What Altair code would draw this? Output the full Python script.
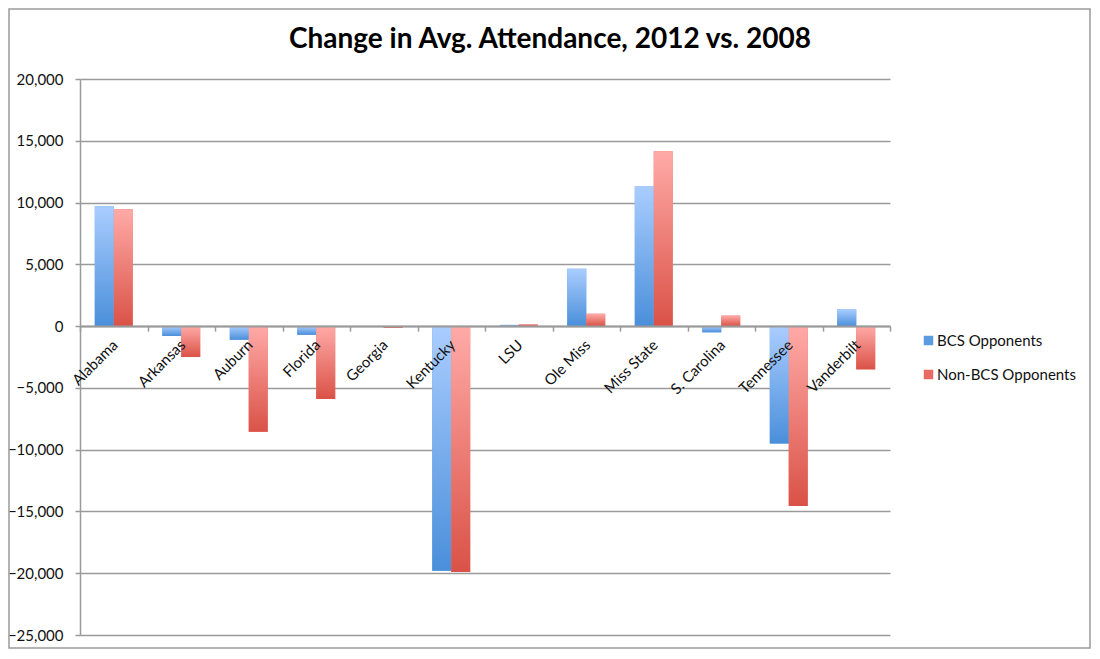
import altair as alt
import pandas as pd

teams = ["Alabama", "Arkansas", "Auburn", "Florida", "Georgia", "Kentucky", "LSU",
         "Ole Miss", "Miss State", "S. Carolina", "Tennessee", "Vanderbilt"]
series_names = ["BCS Opponents", "Non-BCS Opponents"]
bcs_values = [9700, -800, -1100, -700, -50, -19800, 100, 4650, 11350, -500, -9500, 1350]
nonbcs_values = [9450, -2500, -8550, -5900, -150, -19900, 150, 1000, 14150, 850, -14550, -3500]
y_ticks = [-25000, -20000, -15000, -10000, -5000, 0, 5000, 10000, 15000, 20000]

rows = []
for t, b, n in zip(teams, bcs_values, nonbcs_values):
    rows.append({"team": t, "series": series_names[0], "value": b})
    rows.append({"team": t, "series": series_names[1], "value": n})
df = pd.DataFrame(rows)

W, H = 810, 556
ymin, ymax = -25000, 20000
zero_px = H * ymax / (ymax - ymin)
FONT = "Lato"
GRID = "#9a9a9a"

blue_grad = alt.Gradient(gradient="linear", x1=0, x2=0, y1=0, y2=1,
                         stops=[alt.GradientStop(color="#aacdff", offset=0),
                                alt.GradientStop(color="#4a8fda", offset=1)])
red_grad = alt.Gradient(gradient="linear", x1=0, x2=0, y1=0, y2=1,
                        stops=[alt.GradientStop(color="#ffaaa7", offset=0),
                               alt.GradientStop(color="#da5247", offset=1)])

base = alt.Chart(df).encode(
    x=alt.X("team:N", sort=teams,
            scale=alt.Scale(paddingInner=0, paddingOuter=0),
            axis=alt.Axis(title=None, orient="bottom", offset=-(H - zero_px), labelAngle=315,
                          tickBand="extent", tickSize=5, tickColor=GRID, tickWidth=1.5,
                          domainColor=GRID, domainWidth=2, grid=False, zindex=1,
                          labelFont=FONT, labelFontSize=15, labelColor="#111111",
                          labelPadding=6, labelOffset=-4)),
    xOffset=alt.XOffset("series:N", sort=series_names,
                        scale=alt.Scale(paddingInner=0, paddingOuter=0.78)),
    y=alt.Y("value:Q",
            scale=alt.Scale(domain=[ymin, ymax], nice=False, zero=False),
            axis=alt.Axis(title=None, values=y_ticks, format=",.0f", tickSize=5,
                          tickColor=GRID, tickWidth=1.5, domainColor=GRID, domainWidth=1.5,
                          gridColor=GRID, gridWidth=1.5, labelFont=FONT, labelFontSize=15,
                          labelColor="#111111", labelPadding=12)),
)

flat = base.mark_bar().encode(
    color=alt.Color("series:N", sort=series_names,
                    scale=alt.Scale(domain=series_names, range=["#5b9be2", "#e86a63"]),
                    legend=alt.Legend(title=None, orient="none", legendX=841, legendY=254,
                                      symbolType="square", symbolSize=90, symbolStrokeWidth=0,
                                      labelFont=FONT, labelFontSize=15, labelColor="#111111",
                                      rowPadding=18, padding=0, labelOffset=1))
)
grad_b = base.transform_filter(alt.datum.series == series_names[0]).mark_bar(fill=blue_grad)
grad_r = base.transform_filter(alt.datum.series == series_names[1]).mark_bar(fill=red_grad)

# outer chart frame (decorative border, as in the reference)
frame = alt.Chart(pd.DataFrame({"f": [0]})).mark_rect(
    fill=None, stroke="#9a9a9a", strokeWidth=1.5
).encode(x=alt.value(-71), x2=alt.value(W + 200), y=alt.value(-70), y2=alt.value(H + 13))

chart = alt.layer(flat, grad_b, grad_r, frame).properties(
    width=W, height=H,
    title=alt.TitleParams("Change in Avg. Attendance, 2012 vs. 2008", font=FONT,
                          fontSize=28, fontWeight="bold", color="#000000",
                          anchor="middle", frame="group", dx=65, offset=-46),
    autosize=alt.AutoSizeParams(type="none"),
    padding={"left": 72, "top": 71, "right": 202, "bottom": 14},
).configure_view(stroke=None)

chart.save("out.html", embed_options={"renderer": "svg", "actions": False})
